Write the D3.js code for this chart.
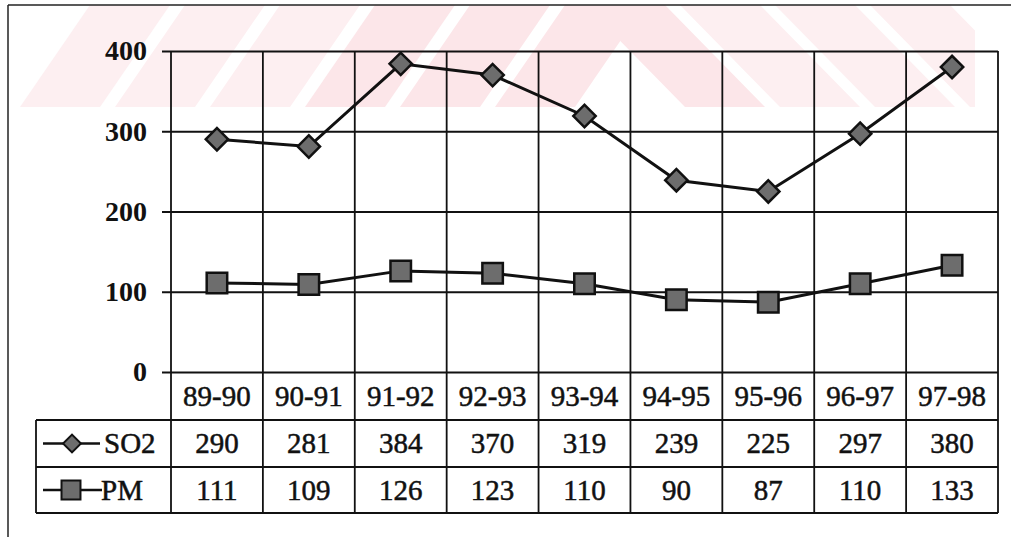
<!DOCTYPE html>
<html><head><meta charset="utf-8">
<script src="https://cdn.jsdelivr.net/npm/d3@7"></script>
<style>body{margin:0;background:#fff} svg{display:block}</style>
</head><body><svg id="c" width="1011" height="537"></svg>
<script>
const categories = ["89-90","90-91","91-92","92-93","93-94","94-95","95-96","96-97","97-98"];
const so2 = [290,281,384,370,319,239,225,297,380];
const pm = [111,109,126,123,110,90,87,110,133];
const yTicks = [0,100,200,300,400];
const seriesNames = ["SO2","PM"];

const svg = d3.select("#c");
const plotL = 171, plotR = 998, plotT = 51, plotB = 372;
const rows = [372, 420, 467, 513];
const legendL = 36;
const ink = "#111";
const FONT = '"Liberation Serif"';
const FS = 29;
const baseOff = FS * 0.34;

const x = d3.scaleBand().domain(categories).range([plotL, plotR]);
const y = d3.scaleLinear().domain([0, 400]).range([plotB, plotT]);
const cx = c => x(c) + x.bandwidth() / 2;
const rowMid = k => (rows[k] + rows[k + 1]) / 2;

// watermark (decorative diagonal stripes)
const wm = svg.append("g");
const bandTop = 5, bandBot = 107;
d3.range(6).forEach(i => {
  const b = 20 + 95 * i, w = 80, s = 70;
  wm.append("polygon")
    .attr("points", [[b, bandBot], [b + w, bandBot], [b + w + s, bandTop], [b + s, bandTop]].map(p => p.join(",")).join(" "))
    .attr("fill", i >= 3 ? "#fce6e9" : "#fdeff1");
});
d3.range(4).forEach(j => {
  const t = 585 + 95 * j, w = 80, s = 100;
  wm.append("polygon")
    .attr("points", [[t, bandTop], [t + w, bandTop], [t + w + s, bandBot], [t + s, bandBot]].map(p => p.join(",")).join(" "))
    .attr("fill", j === 0 ? "#fce6e9" : "#fdeff1");
});
wm.append("rect").attr("x", 0).attr("y", 0).attr("width", 1011).attr("height", 5).attr("fill", "#fff");
wm.append("rect").attr("x", 0).attr("y", 0).attr("width", 8).attr("height", 120).attr("fill", "#fff");
wm.append("rect").attr("x", 975).attr("y", 0).attr("width", 40).attr("height", 120).attr("fill", "#fff");

// outer frame
svg.append("line").attr("x1", 8).attr("x2", 1011).attr("y1", 5).attr("y2", 5).attr("stroke", "#222").attr("stroke-width", 1.5);
svg.append("line").attr("x1", 8).attr("x2", 8).attr("y1", 5).attr("y2", 537).attr("stroke", "#222").attr("stroke-width", 1.5);

// y axis with gridlines
const yAxis = svg.append("g").attr("transform", `translate(${plotR},0)`)
  .call(d3.axisLeft(y).tickValues(yTicks).tickSize(plotR - 162).tickPadding(15));
yAxis.select(".domain").remove();
yAxis.selectAll("line").attr("stroke", ink).attr("stroke-width", 1.8);
yAxis.selectAll("text").style("font-family", FONT).style("font-size", "28px").style("font-weight", "bold").attr("fill", ink);

// vertical grid / table lines
const vx = categories.map(c => x(c)).concat([plotR]);
svg.append("g").selectAll("line").data(vx).join("line")
  .attr("x1", d => d).attr("x2", d => d).attr("y1", plotT).attr("y2", rows[3])
  .attr("stroke", ink).attr("stroke-width", 1.8);

// table horizontal lines
svg.append("g").selectAll("line").data(rows.slice(1)).join("line")
  .attr("x1", legendL).attr("x2", plotR).attr("y1", d => d).attr("y2", d => d)
  .attr("stroke", ink).attr("stroke-width", 1.8);
svg.append("line").attr("x1", legendL).attr("x2", legendL).attr("y1", rows[1]).attr("y2", rows[3])
  .attr("stroke", ink).attr("stroke-width", 1.8);

const txt = (g) => g.style("font-family", FONT).style("font-size", FS + "px").attr("fill", ink)
  .attr("stroke", ink).attr("stroke-width", 0.5).attr("text-anchor", "middle");

// category labels
svg.append("g").selectAll("text").data(categories).join("text")
  .attr("x", cx).attr("y", rowMid(0) + baseOff).text(d => d).call(txt);

// values
[so2, pm].forEach((vals, k) => {
  svg.append("g").selectAll("text").data(vals).join("text")
    .attr("x", (d, i) => cx(categories[i])).attr("y", rowMid(k + 1) + baseOff).text(d => d).call(txt);
});

// series lines
const line = d3.line().x((d, i) => cx(categories[i])).y(d => y(d));
[so2, pm].forEach(vals => {
  svg.append("path").datum(vals).attr("d", line).attr("fill", "none").attr("stroke", ink).attr("stroke-width", 3);
});

const diamond = d3.symbol(d3.symbolSquare, 250)();
const square = d3.symbol(d3.symbolSquare, 420)();
const mFill = "#6d6d6d";

svg.append("g").selectAll("path").data(so2).join("path")
  .attr("d", diamond)
  .attr("transform", (d, i) => `translate(${cx(categories[i])},${y(d)}) rotate(45)`)
  .attr("fill", mFill).attr("stroke", ink).attr("stroke-width", 2.5);
svg.append("g").selectAll("path").data(pm).join("path")
  .attr("d", square)
  .attr("transform", (d, i) => `translate(${cx(categories[i])},${y(d)})`)
  .attr("fill", mFill).attr("stroke", ink).attr("stroke-width", 2.5);

// legend keys
seriesNames.forEach((name, k) => {
  const ly = rowMid(k + 1);
  const g = svg.append("g");
  g.append("line").attr("x1", 43).attr("x2", k === 0 ? 100 : 102).attr("y1", ly).attr("y2", ly)
    .attr("stroke", ink).attr("stroke-width", 2.5);
  g.append("path").attr("d", k === 0 ? d3.symbol(d3.symbolSquare, 160)() : d3.symbol(d3.symbolSquare, 360)())
    .attr("transform", `translate(${k === 0 ? 72 : 71},${ly})${k === 0 ? " rotate(45)" : ""}`)
    .attr("fill", mFill).attr("stroke", ink).attr("stroke-width", 2);
  g.append("text").attr("x", k === 0 ? 104 : 101).attr("y", ly + baseOff).text(name)
    .call(txt).attr("text-anchor", "start");
});
</script></body></html>
